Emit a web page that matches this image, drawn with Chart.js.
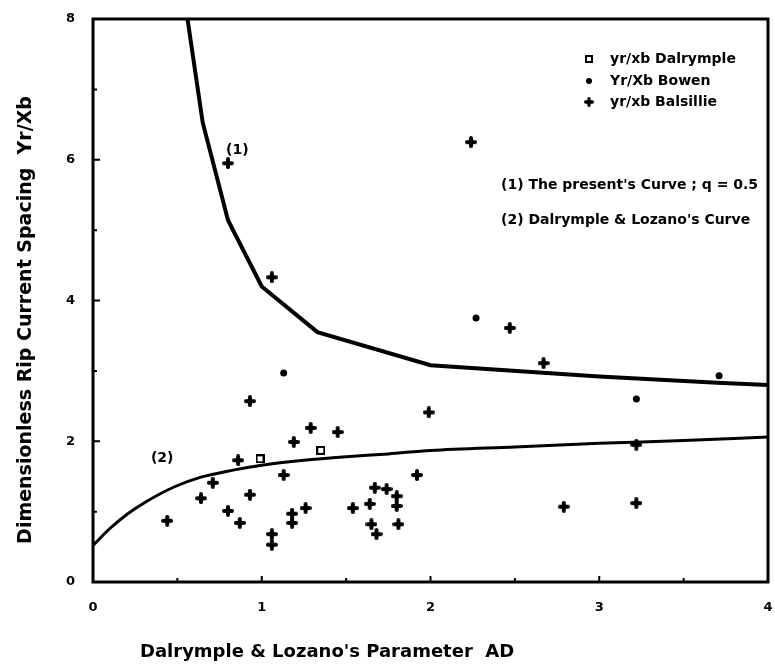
<!DOCTYPE html>
<html>
<head>
    <title>Rip current spacing</title>
    <script src="https://cdn.jsdelivr.net/npm/chart.js@4/dist/chart.umd.min.js"></script>
    <style>
        body { margin: 0; background: #fff; }
    </style>
</head>
<body>
<canvas id="myChart" width="775" height="665"></canvas>
<script>
    const dalrympleX = [0.99, 1.35];
    const dalrympleY = [1.75, 1.87];

    const bowenX = [1.13, 2.27, 3.22, 3.71];
    const bowenY = [2.97, 3.75, 2.60, 2.93];

    const balsillieX = [0.44, 0.64, 0.71, 0.80, 0.87, 0.86, 0.93, 0.93, 1.06, 1.06, 1.13, 1.18,
        1.18, 1.19, 1.26, 1.29, 1.45, 1.54, 1.64, 1.67, 1.74, 1.80, 1.80, 1.65, 1.68, 1.81,
        1.92, 1.99, 0.80, 1.06, 2.24, 2.47, 2.67, 2.79, 3.22, 3.22];
    const balsillieY = [0.87, 1.19, 1.41, 1.01, 0.84, 1.73, 2.57, 1.24, 0.68, 0.53, 1.52, 0.97,
        0.84, 1.99, 1.05, 2.19, 2.13, 1.05, 1.11, 1.34, 1.32, 1.22, 1.08, 0.82, 0.68, 0.82,
        1.52, 2.41, 5.95, 4.33, 6.25, 3.61, 3.11, 1.07, 1.12, 1.95];

    // (1) the present curve, q = 0.5
    const presentX = [0.56, 0.65, 0.80, 1.00, 1.33, 2.00, 3.00, 3.70, 4.00];
    const presentY = [8.00, 6.53, 5.14, 4.20, 3.55, 3.08, 2.92, 2.83, 2.80];

    // (2) Dalrymple & Lozano's curve
    const dlX = [0.00, 0.10, 0.20, 0.30, 0.48, 0.64, 0.83, 1.00, 1.25, 1.50, 1.75, 2.00, 2.50, 3.00, 3.50, 4.00];
    const dlY = [0.52, 0.76, 0.96, 1.12, 1.35, 1.49, 1.59, 1.66, 1.73, 1.78, 1.82, 1.87, 1.92, 1.97, 2.01, 2.06];

    const xTicks = [0, 1, 2, 3, 4];
    const yTicks = [0, 2, 4, 6, 8];

    const legendLabels = ['yr/xb Dalrymple', 'Yr/Xb Bowen', 'yr/xb Balsillie'];
    const curveLabels = ["(1) The present's Curve ; q = 0.5", "(2) Dalrymple & Lozano's Curve"];

    const FONT = '"DejaVu Sans", sans-serif';

    function pts(xs, ys) {
        return xs.map((x, i) => ({x: x, y: ys[i]}));
    }

    // marker images
    function crossMarker(size) {
        const c = document.createElement('canvas');
        c.width = size; c.height = size;
        const g = c.getContext('2d');
        const m = size / 2, w = size / 3;
        g.strokeStyle = '#000';
        g.lineWidth = w;
        g.lineCap = 'round';
        g.beginPath();
        g.moveTo(w / 2, m); g.lineTo(size - w / 2, m);
        g.moveTo(m, w / 2); g.lineTo(m, size - w / 2);
        g.stroke();
        return c;
    }

    function squareMarker(size) {
        const c = document.createElement('canvas');
        c.width = size; c.height = size;
        const g = c.getContext('2d');
        g.fillStyle = '#fff';
        g.fillRect(0, 0, size, size);
        g.strokeStyle = '#000';
        g.lineWidth = 2;
        g.strokeRect(1, 1, size - 2, size - 2);
        return c;
    }

    const cross = crossMarker(12);
    const square = squareMarker(9);

    const data = {
        datasets: [
            {
                label: curveLabels[0],
                data: pts(presentX, presentY),
                showLine: true,
                borderColor: '#000',
                borderWidth: 4,
                pointRadius: 0,
                tension: 0
            },
            {
                label: curveLabels[1],
                data: pts(dlX, dlY),
                showLine: true,
                borderColor: '#000',
                borderWidth: 3,
                pointRadius: 0,
                cubicInterpolationMode: 'monotone'
            },
            {
                label: legendLabels[0],
                data: pts(dalrympleX, dalrympleY),
                pointStyle: square,
                pointRadius: 5
            },
            {
                label: legendLabels[1],
                data: pts(bowenX, bowenY),
                pointStyle: 'circle',
                pointRadius: 3.5,
                backgroundColor: '#000',
                borderColor: '#000',
                borderWidth: 0
            },
            {
                label: legendLabels[2],
                data: pts(balsillieX, balsillieY),
                pointStyle: cross,
                pointRadius: 6
            }
        ]
    };

    // frame, inward ticks, legend and text
    const decorations = {
        id: 'decorations',
        afterDraw(chart) {
            const ctx = chart.ctx;
            const a = chart.chartArea;
            const xs = chart.scales.x, ys = chart.scales.y;
            ctx.save();
            ctx.strokeStyle = '#000';
            ctx.fillStyle = '#000';

            ctx.lineWidth = 3;
            ctx.strokeRect(a.left, a.top, a.right - a.left, a.bottom - a.top);

            ctx.lineWidth = 2;
            ctx.beginPath();
            for (let v = 1; v < 8; v++) {
                const py = ys.getPixelForValue(v);
                ctx.moveTo(a.left, py);
                ctx.lineTo(a.left + (v % 2 === 0 ? 7 : 4), py);
            }
            for (let v = 0.5; v < 4; v += 0.5) {
                const px = xs.getPixelForValue(v);
                ctx.moveTo(px, a.bottom);
                ctx.lineTo(px, a.bottom - (Number.isInteger(v) ? 6 : 4));
            }
            ctx.stroke();

            // legend
            const lx = 589, ly = [59, 81, 102];
            ctx.font = 'bold 14px ' + FONT;
            ctx.textBaseline = 'middle';
            ctx.textAlign = 'left';
            ctx.drawImage(squareMarker(8), lx - 4, ly[0] - 4);
            ctx.beginPath();
            ctx.arc(lx, ly[1], 3, 0, Math.PI * 2);
            ctx.fill();
            ctx.drawImage(crossMarker(10), lx - 5, ly[2] - 5);
            legendLabels.forEach((t, i) => ctx.fillText(t, 610, ly[i]));

            ctx.font = 'bold 14px ' + FONT;
            ctx.fillText(curveLabels[0], 501, 185);
            ctx.fillText(curveLabels[1], 501, 220);

            ctx.font = 'bold 14px ' + FONT;
            ctx.textAlign = 'center';
            ctx.fillText('(1)', xs.getPixelForValue(0.855), ys.getPixelForValue(6.14));
            ctx.fillText('(2)', xs.getPixelForValue(0.41), ys.getPixelForValue(1.75));

            // axis titles
            ctx.font = 'bold 18px ' + FONT;
            ctx.textAlign = 'left';
            ctx.fillText("Dalrymple & Lozano's Parameter  AD", 140, 652);
            ctx.font = 'bold 19px ' + FONT;
            ctx.translate(26, 320);
            ctx.rotate(-Math.PI / 2);
            ctx.textAlign = 'center';
            ctx.fillText('Dimensionless Rip Current Spacing  Yr/Xb', 0, 0);
            ctx.restore();
        }
    };

    const config = {
        type: 'scatter',
        data: data,
        options: {
            responsive: false,
            animation: false,
            layout: { padding: { top: 19, right: 2, left: 0, bottom: 0 } },
            plugins: {
                legend: { display: false },
                tooltip: { enabled: false }
            },
            scales: {
                x: {
                    type: 'linear',
                    min: 0,
                    max: 4,
                    afterFit: (s) => { s.height = 83; s.paddingRight = 0; },
                    afterBuildTicks: (s) => { s.ticks = xTicks.map(v => ({value: v})); },
                    grid: { display: false },
                    border: { display: false },
                    ticks: {
                        color: '#000',
                        padding: 10,
                        maxRotation: 0,
                        font: { family: FONT, size: 13, weight: 'bold' }
                    }
                },
                y: {
                    type: 'linear',
                    min: 0,
                    max: 8,
                    afterFit: (s) => { s.width = 93; },
                    afterBuildTicks: (s) => { s.ticks = yTicks.map(v => ({value: v})); },
                    grid: { display: false },
                    border: { display: false },
                    ticks: {
                        color: '#000',
                        padding: 10,
                        font: { family: FONT, size: 13, weight: 'bold' }
                    }
                }
            }
        },
        plugins: [decorations]
    };

    const myChart = new Chart(document.getElementById('myChart'), config);
</script>
</body>
</html>
